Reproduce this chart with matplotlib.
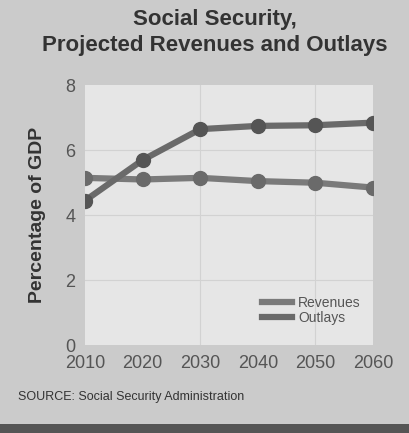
import matplotlib.pyplot as plt
from matplotlib.patches import Rectangle
from matplotlib.lines import Line2D

plt.rcParams['font.family'] = ['Liberation Sans', 'DejaVu Sans']

years = [2010, 2020, 2030, 2040, 2050, 2060]
revenues = [5.15, 5.1, 5.15, 5.05, 5.0, 4.85]
outlays = [4.45, 5.7, 6.65, 6.75, 6.77, 6.85]
yticks = [0, 2, 4, 6, 8]

fig = plt.figure(figsize=(4.09, 4.33), dpi=100, facecolor='#cbcbcb')
ax = fig.add_axes([0.208, 0.203, 0.704, 0.60], facecolor='#e6e6e6')

ax.plot(years, revenues, color='#7a7a7a', lw=4.5, marker='o', ms=10,
        mfc='#6a6a6a', mec='#6a6a6a', zorder=3)
ax.plot(years, outlays, color='#6a6a6a', lw=4.5, marker='o', ms=10,
        mfc='#555555', mec='#555555', zorder=4)

ax.set_xlim(2010, 2060)
ax.set_ylim(0, 8)
ax.set_xticks(years)
ax.set_yticks(yticks)
ax.tick_params(length=0, labelsize=13, labelcolor='#555555', pad=7)
for s in ax.spines.values():
    s.set_visible(False)
for x in [2030, 2050]:
    ax.axvline(x, color='#d2d2d2', lw=0.8, zorder=1)
for y in [2, 4, 6]:
    ax.axhline(y, color='#d2d2d2', lw=0.8, zorder=1)

ax.set_ylabel('Percentage of GDP', fontsize=14, fontweight='bold',
              color='#333333', labelpad=14)

handles = [Line2D([0], [0], color='#7a7a7a', lw=4.5),
           Line2D([0], [0], color='#6a6a6a', lw=4.5)]
ax.legend(handles, ['Revenues', 'Outlays'], loc='lower right', frameon=False,
          fontsize=10, labelcolor='#555555', handlelength=2.2,
          handletextpad=0.4, labelspacing=0.05, bbox_to_anchor=(1.0, 0.03))

fig.text(0.525, 0.955, 'Social Security,', ha='center', va='center',
         fontsize=16, fontweight='bold', color='#333333')
fig.text(0.525, 0.895, 'Projected Revenues and Outlays', ha='center', va='center',
         fontsize=16, fontweight='bold', color='#333333')
fig.text(0.045, 0.083, 'SOURCE: Social Security Administration', ha='left',
         va='center', fontsize=9, color='#333333')

fig.patches.append(Rectangle((0, 0), 1, 0.02, transform=fig.transFigure,
                             facecolor='#555555', edgecolor='none'))

fig.savefig('out.png', dpi=100, facecolor=fig.get_facecolor())
